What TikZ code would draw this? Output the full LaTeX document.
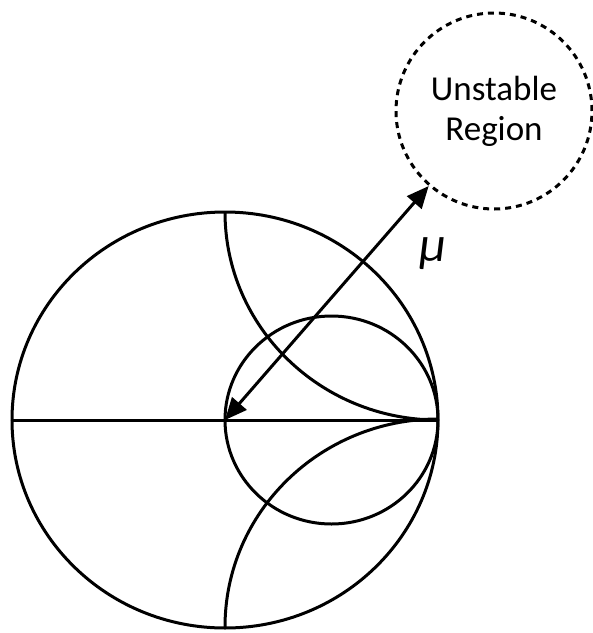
\documentclass[tikz,border=0pt]{standalone}
\usepackage{fontspec}
\setmainfont{Carlito}
\usetikzlibrary{arrows.meta,positioning,calc}

\begin{document}
\begin{tikzpicture}[x=1pt,y=-1pt,line width=3pt,every node/.style={font=\fontsize{35}{42}\selectfont}]
\useasboundingbox (0,0) rectangle (593,633);
\coordinate (O) at (225,420); \coordinate (R) at (438,420); \coordinate (L) at (12,420);
\coordinate (T) at (225,212); \coordinate (B) at (225,627);
\draw (O) ellipse [x radius=213, y radius=208];
\draw ($(O)!0.5!(R)$) ellipse [x radius=106.5, y radius=104];
\draw (L)--(R);
\draw (T) arc [start angle=180, end angle=90, x radius=213, y radius=208];
\draw (B) arc [start angle=180, end angle=270, x radius=213, y radius=208];
\node[circle,draw,dash pattern=on 6pt off 5pt,minimum size=196pt,align=center,inner sep=0pt] (U) at (494,111) {Unstable\\[-2pt]Region};
\draw[{Triangle[length=22pt,width=19pt]}-{Triangle[length=22pt,width=19pt]}] (O)--(U);
\node[font=\fontsize{50}{50}\selectfont] (mu) at (433,254) {\textit{μ}};
\end{tikzpicture}
\end{document}
